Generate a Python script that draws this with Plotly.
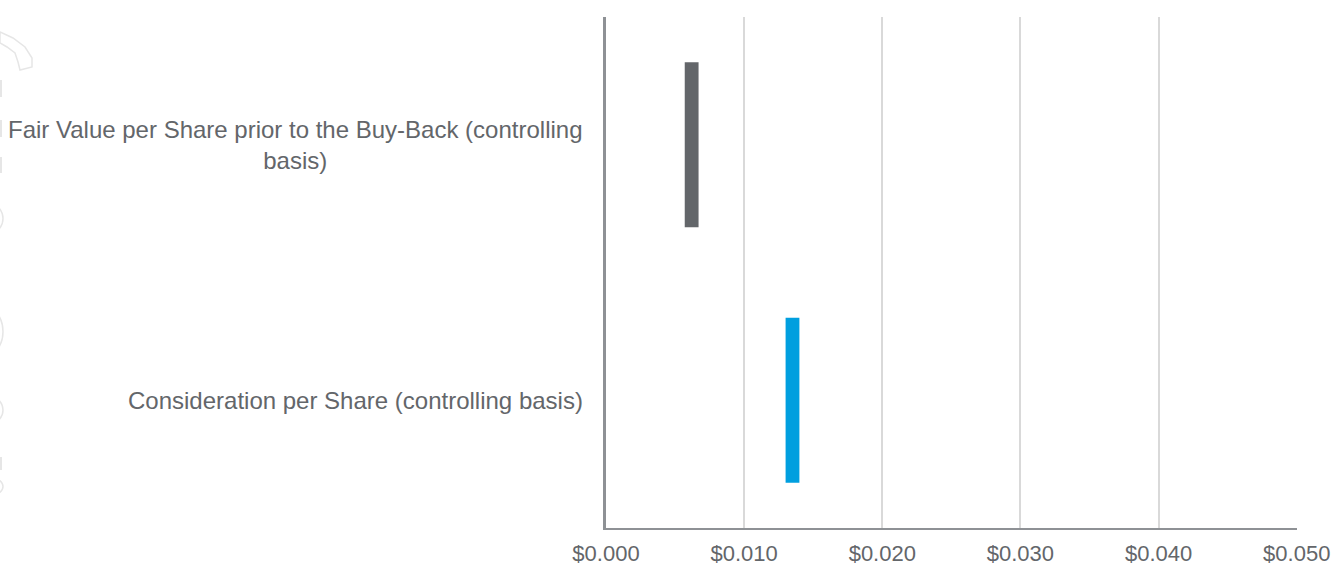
import plotly.graph_objects as go

categories = [
    "Fair Value per Share prior to the Buy-Back (controlling<br>basis)",
    "Consideration per Share (controlling basis)",
]
range_low = [0.0057, 0.0130]
range_high = [0.0067, 0.0140]
bar_colors = ["#63666a", "#009fdf"]
tick_vals = [0.0, 0.01, 0.02, 0.03, 0.04, 0.05]
tick_text = ["$0.000", "$0.010", "$0.020", "$0.030", "$0.040", "$0.050"]

W, H = 1336, 566
L, R, T, B = 606, 1297, 17, 528

def px(x):
    return (x - L) / (R - L)

def py(y):
    return (B - y) / (B - T)

fig = go.Figure()
fig.add_trace(go.Bar(
    y=categories,
    x=[h - l for l, h in zip(range_low, range_high)],
    base=range_low,
    orientation="h",
    marker=dict(color=bar_colors, line=dict(width=0)),
    width=0.645,
    hoverinfo="skip",
))

font_main = "Liberation Sans, Arial, sans-serif"
text_color = "#63666a"
fsize = 24

annotations = []
for c in categories:
    annotations.append(dict(
        x=px(585), xref="paper", y=c, yref="y",
        text=c, showarrow=False, xanchor="right", yanchor="middle",
        align="center", font=dict(family=font_main, size=fsize, color=text_color),
    ))

# faint decorative background outline at left edge
deco = "#e6e6e6"
shapes = []
hook = [(0, 32), (13, 38), (25, 47), (32, 58), (32, 67), (20, 70), (18, 62), (15, 53), (7, 47), (0, 43)]
path = "M " + " L ".join(f"{px(x)},{py(y)}" for x, y in hook) + " Z"
shapes.append(dict(type="path", xref="paper", yref="paper", path=path,
                   line=dict(color=deco, width=1.5), fillcolor="rgba(0,0,0,0)", layer="below"))
for (y0, y1) in [(80, 97), (120, 137), (157, 173), (457, 470)]:
    shapes.append(dict(type="line", xref="paper", yref="paper",
                       x0=px(1), x1=px(1), y0=py(y0), y1=py(y1),
                       line=dict(color=deco, width=2), layer="below"))
for (y0, y1) in [(197, 240), (300, 363), (390, 430), (473, 500)]:
    shapes.append(dict(type="circle", xref="paper", yref="paper",
                       x0=px(-60), x1=px(3), y0=py(y0), y1=py(y1),
                       line=dict(color=deco, width=1.5), layer="below"))

fig.update_layout(
    width=W, height=H,
    margin=dict(l=L, r=W - R, t=T, b=H - B, pad=0, autoexpand=False),
    paper_bgcolor="white", plot_bgcolor="white",
    showlegend=False,
    annotations=annotations,
    shapes=shapes,
    xaxis=dict(
        range=[0, 0.05002], tickvals=tick_vals, ticktext=tick_text,
        showgrid=True, gridcolor="#d9d9d9", gridwidth=2,
        showline=True, linecolor="#8e9195", linewidth=2,
        zeroline=False, ticks="", ticklen=0, automargin=False,
        ticklabelstandoff=5,
        tickfont=dict(family=font_main, size=22, color=text_color),
        fixedrange=True,
    ),
    yaxis=dict(
        autorange="reversed", showticklabels=False, showgrid=False,
        showline=True, linecolor="#8e9195", linewidth=2.5, automargin=False,
        zeroline=False, ticks="", fixedrange=True,
    ),
)

fig.write_html("out.html")
